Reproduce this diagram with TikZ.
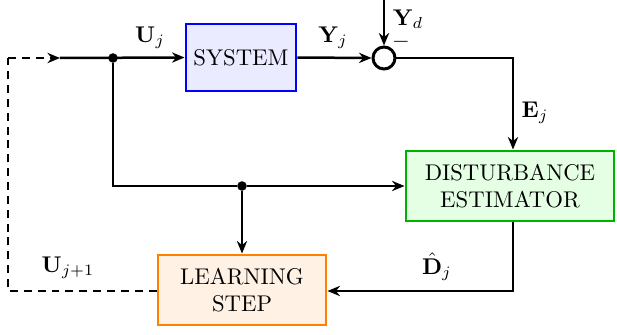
\documentclass[tikz,border=0pt]{standalone}
\usetikzlibrary{arrows.meta}
\begin{document}
\begin{tikzpicture}[x=0.44pt,y=-0.44pt,
  line/.style={line width=1.1pt},
  arr/.style={line width=1.1pt,-{Stealth[length=5.5pt,width=4.5pt]}},
  dashline/.style={line width=1.1pt,dash pattern=on 3.5pt off 2.6pt},
  blk/.style={line width=1.3pt,align=center,inner sep=0pt},
  dot/.style={circle,fill=black,inner sep=0pt,minimum size=4.2pt},
  lbl/.style={inner sep=1pt}]
\useasboundingbox (0,0) rectangle (617,335);

% blocks
\node[blk,draw=blue,fill=blue!8,minimum width=110*0.44pt,minimum height=67*0.44pt] (sys) at (241,57.5) {SYSTEM};
\node[blk,draw=green!70!black,fill=green!10,minimum width=208*0.44pt,minimum height=70*0.44pt] (dist) at (510,186) {DISTURBANCE\\ESTIMATOR};
\node[blk,draw=orange,fill=orange!10,minimum width=168*0.44pt,minimum height=70*0.44pt] (learn) at (242,290) {LEARNING\\STEP};
\node[circle,draw,line width=1.3pt,minimum size=22*0.44pt,inner sep=0pt] (sum) at (384,58) {};

% helper points
\coordinate (tl) at (8,58);
\coordinate (in) at (60,58);
\node[dot] (j1) at (113,58) {};
\node[dot] (j2) at (242,186) {};
\coordinate (top) at (384,0);
\coordinate (ecorner) at (513,58);
\coordinate (dcorner) at (513,291);
\coordinate (bl) at (8,291);

% signal paths
\draw[dashline,-{Stealth[length=5.5pt,width=4.5pt]}] (tl) -- (in);
\draw[arr] (in) -- (sys.west);
\draw[arr] (sys.east) -- (sum.west);
\draw[arr] (top) -- (sum.north);
\draw[arr] (sum.east) -- (ecorner) -- (dist.north -| ecorner);
\draw[line] (j1) -- (113,186) -- (j2);
\draw[arr] (j2) -- (dist.west |- j2);
\draw[arr] (j2) -- (learn.north);
\draw[arr] (dist.south -| dcorner) -- (dcorner) -- (learn.east |- dcorner);
\draw[dashline] (learn.west |- bl) -- (bl) -- (tl);

% labels
\node[lbl] (lu) at (150,38) {$\mathbf{U}_j$};
\node[lbl] (ly) at (333,38) {$\mathbf{Y}_j$};
\node[lbl] (lyd) at (408,19) {$\mathbf{Y}_d$};
\node[lbl] (lm) at (401,42) {$-$};
\node[lbl] (le) at (535,113) {$\mathbf{E}_j$};
\node[lbl] (ld) at (437,267) {$\hat{\mathbf{D}}_j$};
\node[lbl] (lu1) at (68,268) {$\mathbf{U}_{j+1}$};
\end{tikzpicture}
\end{document}
